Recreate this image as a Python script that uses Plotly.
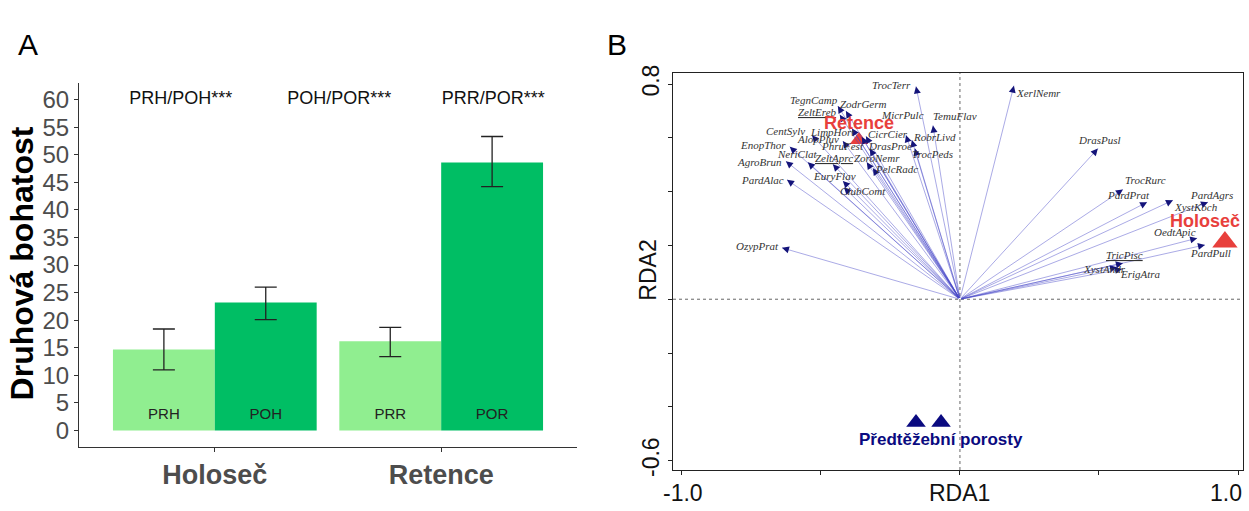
import math
import plotly.graph_objects as go

# ---------------- Panel A data ----------------
sites = ["Holoseč", "Retence"]
site_pos = [1, 2]
pre_labels = ["PRH", "PRR"]
post_labels = ["POH", "POR"]
pre_mean = [14.7, 16.2]
pre_hi = [18.4, 18.7]
pre_lo = [11.0, 13.4]
post_mean = [23.2, 48.6]
post_hi = [26.0, 53.3]
post_lo = [20.1, 44.2]
sig_labels = ["PRH/POH***", "POH/POR***", "PRR/POR***"]
sig_x = [0.85, 1.55, 2.23]
sig_y = [60, 60, 60]
yticks_A = list(range(0, 65, 5))
bar_label_y = 2.7

# ---------------- Panel B data ----------------
species = ["TrocTerr", "TegnCamp", "ZodrGerm", "ZeltEreb", "MicrPulc", "TemuFlav",
           "RobrLivd", "TrocPeds", "CentSylv", "LimpHort", "AlopPluv", "PhruFest",
           "CicrCier", "DrasProe", "EnopThor", "AgroBrun", "NeriClat", "ZeltAprc",
           "ZoroNemr", "PelcRadc", "PardAlac", "EuryFlav", "ClubComt", "OzypPrat",
           "XerlNemr", "DrasPusl", "TrocRurc", "PardPrat", "PardAgrs", "XystKoch",
           "OedtApic", "PardPull", "TricPisc", "XystAndr", "ErigAtra"]
rda1 = [-0.158, -0.439, -0.410, -0.432, -0.194, -0.097,
        -0.173, -0.162, -0.532, -0.388, -0.421, -0.353,
        -0.338, -0.324, -0.612, -0.626, -0.547, -0.457,
        -0.335, -0.313, -0.622, -0.421, -0.417, -0.640,
        0.194, 0.496, 0.586, 0.673, 0.892, 0.766,
        0.853, 0.881, 0.586, 0.565, 0.583]
rda2 = [0.791, 0.718, 0.700, 0.686, 0.610, 0.646,
        0.592, 0.560, 0.610, 0.635, 0.588, 0.603,
        0.606, 0.560, 0.567, 0.513, 0.509, 0.502,
        0.509, 0.487, 0.444, 0.440, 0.415, 0.191,
        0.794, 0.560, 0.408, 0.361, 0.361, 0.368,
        0.227, 0.202, 0.134, 0.119, 0.112]

site_names = ["Retence", "Holoseč", "Předtěžební porosty", "Předtěžební porosty"]
site_rda1 = [-0.363, 0.953, -0.158, -0.068]
site_rda2 = [0.592, 0.213, -0.458, -0.458]

xtick_vals_B = [-1.0, -0.5, 0.0, 0.5, 1.0]
xtick_text_B = ["-1.0", "", "", "", "1.0"]
ytick_vals_B = [-0.6, -0.4, -0.2, 0.0, 0.2, 0.4, 0.6, 0.8]
ytick_text_B = ["-0.6", "", "", "", "", "", "", "0.8"]

# ---------------- styles / label placement ----------------
W, H = 1249, 511
SANS = "Liberation Sans, Arial, sans-serif"
SERIF = "Liberation Serif, Times New Roman, serif"
underlined = {"ZeltEreb", "ZeltAprc", "TricPisc"}
label_off = {  # pixel offsets (dx, dy down) of species labels from arrow tips
    "TrocTerr": (-25, -1), "TegnCamp": (-24, -6), "ZodrGerm": (18, -7), "ZeltEreb": (-22, -3),
    "MicrPulc": (-4, -20), "TemuFlav": (22, -9), "RobrLivd": (23, -3), "TrocPeds": (18, 5),
    "CentSylv": (-27, -4), "LimpHort": (-20, 4), "AlopPluv": (-25, -2), "PhruFest": (-19, 9),
    "CicrCier": (22, -2), "DrasProe": (20, -3), "EnopThor": (-27, -2), "AgroBrun": (-26, 1),
    "NeriClat": (-11, -8), "ZeltAprc": (1, -6), "ZoroNemr": (10, -4), "PelcRadc": (24, 1),
    "PardAlac": (-25, 0), "EuryFlav": (-8, -5), "ClubComt": (19, 3), "OzypPrat": (-25, -2),
    "XerlNemr": (25, 7), "DrasPusl": (2, -9), "TrocRurc": (23, -9), "PardPrat": (-19, -7),
    "PardAgrs": (4, -7), "XystKoch": (23, 7), "OedtApic": (-22, -6), "PardPull": (6, 8),
    "TricPisc": (2, -8), "XystAndr": (-13, 2), "ErigAtra": (18, 5),
}

fig = go.Figure()

# ---- Panel A bars ----
fig.add_trace(go.Bar(
    x=site_pos, y=pre_mean, width=0.45, offset=-0.45, opacity=1,
    marker=dict(color="#90EE90", line=dict(width=0)),
    error_y=dict(type="data", symmetric=False,
                 array=[h - m for h, m in zip(pre_hi, pre_mean)],
                 arrayminus=[m - l for m, l in zip(pre_mean, pre_lo)],
                 color="#222222", thickness=1.3, width=11),
    xaxis="x", yaxis="y", showlegend=False))
fig.add_trace(go.Bar(
    x=site_pos, y=post_mean, width=0.45, offset=0.0, opacity=1,
    marker=dict(color="#00BE64", line=dict(width=0)),
    error_y=dict(type="data", symmetric=False,
                 array=[h - m for h, m in zip(post_hi, post_mean)],
                 arrayminus=[m - l for m, l in zip(post_mean, post_lo)],
                 color="#222222", thickness=1.3, width=11),
    xaxis="x", yaxis="y", showlegend=False))
fig.add_trace(go.Scatter(
    x=[p - 0.225 for p in site_pos] + [p + 0.225 for p in site_pos],
    y=[bar_label_y] * 4,
    text=pre_labels + post_labels, mode="text",
    textfont=dict(family=SANS, size=15, color="#222222"),
    xaxis="x", yaxis="y", showlegend=False))
fig.add_trace(go.Scatter(
    x=sig_x, y=sig_y, text=sig_labels, mode="text",
    textfont=dict(family=SANS, size=18, color="#111111"),
    xaxis="x", yaxis="y", showlegend=False))

# ---- Panel B site markers ----
fig.add_trace(go.Scatter(
    x=site_rda1, y=site_rda2, mode="markers", opacity=1,
    marker=dict(symbol="triangle-up", size=[16, 22, 17, 17], opacity=1,
                color=["#E8403C", "#E8403C", "#0A0A80", "#0A0A80"], line=dict(width=0)),
    xaxis="x2", yaxis="y2", showlegend=False))

ann = []
# species arrows: thin light shafts + small dark heads
for n, x, y in zip(species, rda1, rda2):
    ann.append(dict(x=x, y=y, ax=0, ay=0, xref="x2", yref="y2", axref="x2", ayref="y2",
                    text="", showarrow=True, arrowhead=0, arrowwidth=0.7,
                    arrowcolor="rgba(70,70,200,0.65)", standoff=0))
for n, x, y in zip(species, rda1, rda2):
    px, py = x * 278.0, -y * 277.0
    L = math.hypot(px, py)
    ann.append(dict(x=x, y=y, ax=-px / L * 6, ay=-py / L * 6, xref="x2", yref="y2",
                    text="", showarrow=True, arrowhead=2, arrowsize=1.4, arrowwidth=1,
                    arrowcolor="#14147a", standoff=0))
for n, x, y in zip(species, rda1, rda2):
    dx, dy = label_off[n]
    t = f"<i>{n}</i>"
    if n in underlined:
        t = f"<u>{t}</u>"
    ann.append(dict(x=x, y=y, xref="x2", yref="y2", text=t, showarrow=False,
                    xshift=dx, yshift=-dy,
                    font=dict(family=SERIF, size=11, color="#333333")))

# site labels
ann.append(dict(x=site_rda1[0], y=site_rda2[0], xref="x2", yref="y2", text="<b>Retence</b>",
                showarrow=False, yshift=17, font=dict(family=SANS, size=18, color="#E8403C")))
ann.append(dict(x=site_rda1[1], y=site_rda2[1], xref="x2", yref="y2", text="<b>Holoseč</b>",
                showarrow=False, xshift=-20, yshift=21, font=dict(family=SANS, size=18, color="#E8403C")))
ann.append(dict(x=site_rda1[3], y=site_rda2[3], xref="x2", yref="y2",
                text="<b>Předtěžební porosty</b>", showarrow=False, yshift=-17,
                font=dict(family=SANS, size=17, color="#0A0A80")))

# Panel B x tick labels
for v, t in zip(xtick_vals_B, xtick_text_B):
    if t:
        ann.append(dict(x=v, y=-0.635, xref="x2", yref="y2", text=t, showarrow=False,
                        xanchor="center", yanchor="top", yshift=-8,
                        xshift=(1 if v < 0 else -12),
                        font=dict(family=SANS, size=23, color="#111111")))
# axis titles B
ann.append(dict(x=0, y=-0.635, xref="x2", yref="y2", text="RDA1", showarrow=False,
                xanchor="center", yanchor="top", yshift=-8,
                font=dict(family=SANS, size=23, color="#111111")))
ann.append(dict(x=648 / W, y=0.11, xref="paper", yref="y2", text="RDA2", showarrow=False,
                xanchor="center", yanchor="middle", textangle=-90,
                font=dict(family=SANS, size=23, color="#111111")))

# Panel A y title
ann.append(dict(x=22 / W, y=30.3, xref="paper", yref="y", text="<b>Druhová bohatost</b>",
                xanchor="center", yanchor="middle",
                showarrow=False, textangle=-90, font=dict(family=SANS, size=32, color="#000000")))

# panel letters
ann.append(dict(x=28 / W, y=1 - 38 / H, xref="paper", yref="paper", text="A", showarrow=False,
                xanchor="center", yanchor="middle",
                font=dict(family=SANS, size=30, color="#000000")))
ann.append(dict(x=617 / W, y=1 - 38 / H, xref="paper", yref="paper", text="B", showarrow=False,
                xanchor="center", yanchor="middle",
                font=dict(family=SANS, size=30, color="#000000")))

shapes = [
    dict(type="line", xref="x2", yref="y2", x0=-1.032, x1=1.018, y0=0, y1=0,
         line=dict(color="#666666", width=1, dash="dot")),
    dict(type="line", xref="x2", yref="y2", x0=0, x1=0, y0=-0.635, y1=0.841,
         line=dict(color="#666666", width=1, dash="dot")),
]

fig.update_layout(
    width=W, height=H, autosize=False, margin=dict(l=0, r=0, t=0, b=0),
    paper_bgcolor="white", plot_bgcolor="white", barmode="overlay",
    annotations=ann, shapes=shapes,
    xaxis=dict(domain=[79 / W, 577 / W], range=[0.4, 2.6], anchor="y",
               tickvals=site_pos, ticktext=sites, showgrid=False, zeroline=False,
               showline=True, linecolor="#333333", linewidth=1.2,
               ticks="outside", ticklen=4, tickcolor="#333333",
               tickfont=dict(family=SANS, size=27, color="#4d4d4d", weight="bold")),
    yaxis=dict(domain=[1 - 452 / H, 1 - 77 / H], range=[-2.94, 63.05], anchor="x",
               tickvals=yticks_A, showgrid=False, zeroline=False,
               showline=True, linecolor="#333333", linewidth=1.2,
               ticks="outside", ticklen=4, tickcolor="#333333",
               tickfont=dict(family=SANS, size=24, color="#4d4d4d")),
    xaxis2=dict(domain=[673 / W, 1243 / W], range=[-1.032, 1.018], anchor="y2",
                tickvals=xtick_vals_B, ticktext=[""] * len(xtick_vals_B),
                showgrid=False, zeroline=False, showline=True, mirror=True,
                linecolor="#222222", linewidth=1, ticks="outside", ticklen=4,
                tickcolor="#222222"),
    yaxis2=dict(domain=[1 - 476 / H, 1 - 67 / H], range=[-0.635, 0.841], anchor="x2",
                tickvals=ytick_vals_B, ticktext=ytick_text_B, tickangle=-90,
                showgrid=False, zeroline=False, showline=True, mirror=True,
                linecolor="#222222", linewidth=1, ticks="outside", ticklen=4,
                tickcolor="#222222",
                tickfont=dict(family=SANS, size=23, color="#111111")),
)

fig.write_html("out.html")
